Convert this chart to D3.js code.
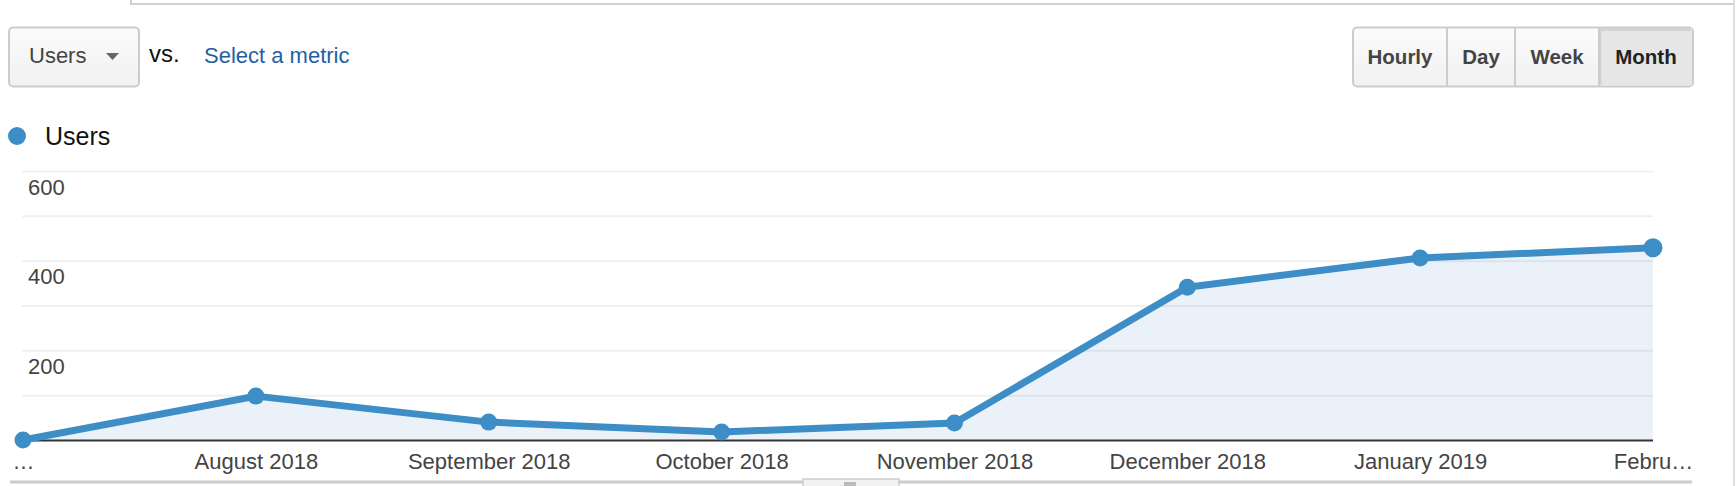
<!DOCTYPE html>
<html>
<head>
<meta charset="utf-8">
<script src="https://cdn.jsdelivr.net/npm/d3@7"></script>
<style>
  html, body { margin: 0; padding: 0; background: #fff; }
  svg { display: block; font-family: "Liberation Sans", Arial, sans-serif; }
</style>
</head>
<body>
<svg id="chart" width="1736" height="486"></svg>
<script>
// ---- data ----
const months = ["July 2018", "August 2018", "September 2018", "October 2018",
                "November 2018", "December 2018", "January 2019", "February 2019"];
const tickLabels = ["…", "August 2018", "September 2018", "October 2018",
                    "November 2018", "December 2018", "January 2019", "Febru…"];
const users = [1, 99, 41, 19, 39, 342, 407, 430];
const gridValues = [100, 200, 300, 400, 500, 600];
const yTickLabels = [200, 400, 600];
const periodButtons = ["Hourly", "Day", "Week", "Month"];
const activePeriod = "Month";
const seriesName = "Users";

const svg = d3.select("#chart");
const lineColor = "#3d8dc6";

// ---- chrome: top box, right border ----
svg.append("path").attr("d", "M131,0 V4 H1733").attr("fill", "none")
  .attr("stroke", "#cfcfcf").attr("stroke-width", 2);
svg.append("line").attr("x1", 1734).attr("x2", 1734).attr("y1", 0).attr("y2", 486)
  .attr("stroke", "#e0e0e0").attr("stroke-width", 2);

// ---- controls ----
const defs = svg.append("defs");
const g1 = defs.append("linearGradient").attr("id", "btnGrad").attr("x1", 0).attr("y1", 0).attr("x2", 0).attr("y2", 1);
g1.append("stop").attr("offset", "0%").attr("stop-color", "#fbfbfb");
g1.append("stop").attr("offset", "100%").attr("stop-color", "#f1f1f1");

svg.append("rect").attr("x", 9).attr("y", 27.5).attr("width", 130).attr("height", 59)
  .attr("rx", 4).attr("fill", "url(#btnGrad)").attr("stroke", "#cccccc").attr("stroke-width", 2);
svg.append("text").attr("x", 29).attr("y", 63).attr("font-size", 22).attr("fill", "#444")
  .text(seriesName);
svg.append("path").attr("d", "M106,53 L119,53 L112.5,60 Z").attr("fill", "#666");
svg.append("text").attr("x", 149).attr("y", 62).attr("font-size", 24).attr("fill", "#111").text("vs.");
svg.append("text").attr("x", 204).attr("y", 63).attr("font-size", 22).attr("fill", "#1f5fa6")
  .text("Select a metric");

// period buttons
const btnX = d3.scaleOrdinal().domain(periodButtons).range([1353, 1447, 1515, 1599]);
const btnW = d3.scaleOrdinal().domain(periodButtons).range([94, 68, 84, 94]);
svg.append("rect").attr("x", 1353).attr("y", 27.5).attr("width", 340).attr("height", 59)
  .attr("rx", 4).attr("fill", "url(#btnGrad)").attr("stroke", "#cccccc").attr("stroke-width", 2);
svg.append("rect").attr("x", 1599).attr("y", 28.5).attr("width", 93).attr("height", 57)
  .attr("fill", "#e6e6e6");
svg.append("path").attr("d", "M1600,85 V29.5 H1691").attr("fill", "none")
  .attr("stroke", "#d3d3d3").attr("stroke-width", 3);
periodButtons.forEach((b, i) => {
  if (i > 0) {
    svg.append("line").attr("x1", btnX(b)).attr("x2", btnX(b)).attr("y1", 28).attr("y2", 86)
      .attr("stroke", "#cccccc").attr("stroke-width", 2);
  }
  svg.append("text").attr("x", btnX(b) + btnW(b) / 2).attr("y", 64)
    .attr("text-anchor", "middle").attr("font-size", 20.5).attr("font-weight", "bold")
    .attr("fill", b === activePeriod ? "#222" : "#444").text(b);
});

// legend
svg.append("circle").attr("cx", 17).attr("cy", 136).attr("r", 9).attr("fill", lineColor);
svg.append("text").attr("x", 45).attr("y", 145).attr("font-size", 25).attr("fill", "#111").text(seriesName);

// ---- scales ----
const x = d3.scalePoint().domain(months).range([23, 1653]);
const y = d3.scaleLinear().domain([0, 600]).range([440.5, 171.5]);

const data = months.map((m, i) => ({ m, v: users[i] }));

// area
svg.append("path").datum(data)
  .attr("d", d3.area().x(d => x(d.m)).y0(y(0)).y1(d => y(d.v)))
  .attr("fill", "#eaf1f8");

// gridlines
svg.append("g").selectAll("line").data(gridValues).join("line")
  .attr("x1", 22).attr("x2", 1653)
  .attr("y1", d => y(d)).attr("y2", d => y(d))
  .attr("stroke", "rgba(0,0,0,0.06)").attr("stroke-width", 2);

// y labels
svg.append("g").selectAll("text").data(yTickLabels).join("text")
  .attr("x", 28).attr("y", d => y(d) + 23)
  .attr("font-size", 22).attr("fill", "#444").text(d => d);

// baseline axis
svg.append("line").attr("x1", 23).attr("x2", 1653).attr("y1", y(0)).attr("y2", y(0))
  .attr("stroke", "#333").attr("stroke-width", 2);

// x labels via axis
const xAxis = d3.axisBottom(x).tickSize(0).tickPadding(0).tickFormat((d, i) => tickLabels[i]);
const ax = svg.append("g").attr("transform", `translate(0,${y(0)})`).call(xAxis);
ax.select(".domain").remove();
ax.selectAll("text").attr("dy", null).attr("y", 28.5)
  .attr("font-size", 22).attr("fill", "#444")
  .attr("font-family", "\"Liberation Sans\", Arial, sans-serif");

// line
svg.append("path").datum(data)
  .attr("d", d3.line().x(d => x(d.m)).y(d => y(d.v)))
  .attr("fill", "none").attr("stroke", lineColor).attr("stroke-width", 7)
  .attr("stroke-linejoin", "round");

// points
svg.append("g").selectAll("circle").data(data).join("circle")
  .attr("cx", d => x(d.m)).attr("cy", d => y(d.v))
  .attr("r", (d, i) => i === data.length - 1 ? 9.5 : 8.5).attr("fill", lineColor);

// bottom scroller
svg.append("line").attr("x1", 10).attr("x2", 1692).attr("y1", 482).attr("y2", 482)
  .attr("stroke", "#cccccc").attr("stroke-width", 3);
svg.append("rect").attr("x", 803).attr("y", 479).attr("width", 96).attr("height", 10)
  .attr("fill", "#f2f2f2").attr("stroke", "#cccccc").attr("stroke-width", 1.5);
svg.append("rect").attr("x", 844).attr("y", 482).attr("width", 12).attr("height", 4)
  .attr("fill", "#bbbbbb");
</script>
</body>
</html>
